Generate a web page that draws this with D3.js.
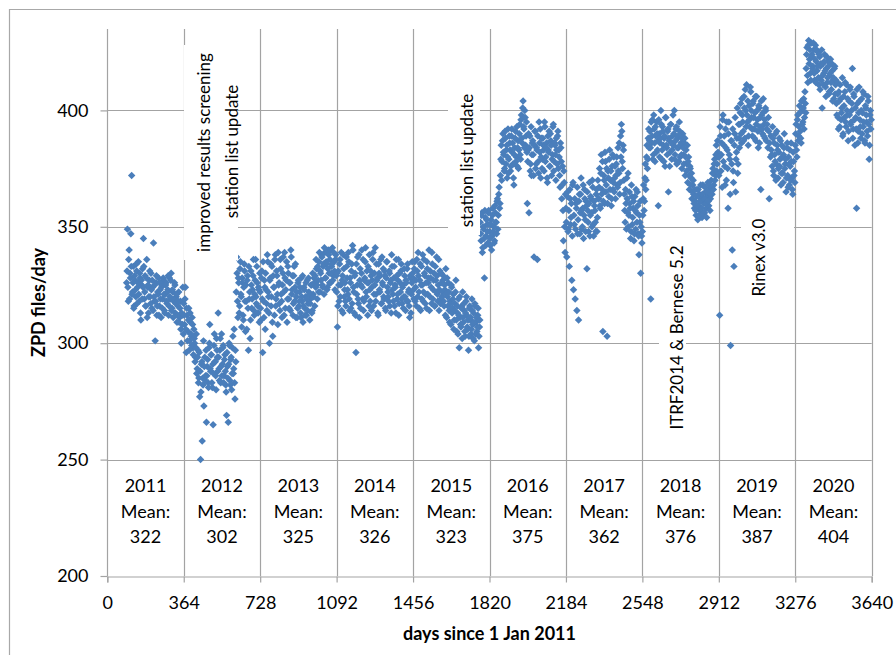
<!DOCTYPE html>
<html><head><meta charset="utf-8">
<script src="https://cdn.jsdelivr.net/npm/d3@7"></script>
<style>
body{margin:0;background:#fff}
text{font-family:Lato,"Noto Sans",sans-serif;fill:#000}
</style>
</head><body>
<svg id="chart" width="896" height="655"></svg>
<script>
// ---------- data ----------
const xTickValues = [0, 364, 728, 1092, 1456, 1820, 2184, 2548, 2912, 3276, 3640];
const yTickValues = [200, 250, 300, 350, 400];
const yearLabels = ["2011","2012","2013","2014","2015","2016","2017","2018","2019","2020"];
const yearMeans = [322, 302, 325, 326, 323, 375, 362, 376, 387, 404];
const segStart = [92, 364, 728, 1092, 1456, 1820, 2184, 2548, 2912, 3276];
const segEnd   = [364, 728, 1092, 1456, 1820, 2184, 2548, 2912, 3276, 3640];

// samples every 4 days (set A) and the in-between days (set B)
const zpd2011 = [326,349,318,340,330,347,372,322,333,316,327,320,331,324,335,318,328,310,325,332,
345,319,329,316,336,324,313,327,320,330,315,324,343,318,301,326,312,322,328,316,
323,311,325,319,327,314,321,326,317,323,312,328,319,330,315,322,318,326,313,320,
309,316,322,311,318,300,312,324];
const zpd2011b = [331,324,336,319,328,333,321,326,315,329,323,334,317,326,321,330,313,327,319,324,
333,322,316,328,311,325,320,331,317,323,327,314,320,325,318,329,316,321,312,326,
319,324,315,328,321,313,325,318,322,329,316,320,327,314,323,311,319,325,317,321,
312,318,309,315,306,313,308,304];
const zpd2012 = [317,308,324,296,312,305,315,301,309,303,311,298,306,300,294,304,289,297,285,277,
250,291,258,282,273,294,286,266,290,283,298,308,288,295,281,265,299,292,286,302,
294,313,289,297,283,304,291,299,286,295,282,269,290,266,300,284,293,280,298,287,
306,276,292,337,318,328,313,332,321,307,326,310,334,318,325,306,329,297,319,302,
331,315,323,336,312,327,320,333,316,324,309];
const zpd2012b = [312,319,306,315,301,310,297,313,304,299,308,295,302,292,298,287,294,
283,296,288,279,292,285,301,290,284,297,286,293,281,300,289,295,283,291,287,304,
292,280,297,288,294,284,302,290,286,298,283,293,288,279,296,285,291,299,282,294,
287,303,289,283,297,
322,330,311,326,316,335,320,328,312,324,331,305,318,327,315,333,322,310,325,319,
329,314,321,336,317,326,313,323,330];
const zpd2013 = [322,310,331,296,318,327,306,323,314,335,320,300,328,316,333,303,324,312,338,319,
329,308,325,317,336,321,311,330,322,339,315,327,309,333,319,326,314,337,323,312,
329,318,334,320,311,326,316,322,313,328,318,309,324,315,320,312,327,317,322,310,
319,325,314,321,328,316,324,332,319,327,335,322,330,338,325,333,321,339,328,334,
324,340,330,336,326,333,341,329,335,323,338];
const zpd2013b = [315,328,319,335,311,324,330,317,338,322,313,327,334,320,309,329,324,336,316,331,
321,339,326,314,332,318,325,337,312,328,323,335,319,330,315,326,340,321,329,317,
333,324,311,
322,315,327,318,324,311,320,329,316,323,312,326,319,314,328,321,317,325,313,330,320,326,
329,336,325,333,322,339,331,327,337,324,334,341,328,335,323,332,338,326,340,330,
334,327,339,331,336,329];
const zpd2014 = [322,307,331,318,336,325,314,329,338,320,326,316,333,323,339,319,328,315,334,342,
324,313,330,296,321,337,317,311,332,325,340,319,314,327,335,322,331,312,326,338,
318,329,324,336,316,330,341,321,327,313,334,323,329,317,337,325,320,331,315,328,
335,322,318,330,326,313,333,321,328,316,324,336,319,327,312,330,322,334,317,325,
320,329,314,326,332,318,323,311,328,321,335];
const zpd2014b = [330,316,325,334,320,339,327,313,332,323,318,337,328,321,335,314,326,331,317,340,
322,329,312,334,325,319,338,327,315,330,324,336,318,328,341,320,326,333,316,323,
331,314,327,339,321,325,318,334,328,312,330,322,336,317,326,332,319,329,314,335,
324,320,331,316,327,338,323,318,333,325,313,329,321,336,317,326,331,319,324,315,
332,320,327,318,334,322,316,329,313,326,330];
const zpd2015 = [328,319,335,324,316,331,339,322,327,314,333,325,318,336,329,321,315,332,326,340,
320,328,317,334,323,330,316,327,337,321,325,314,331,319,326,322,
329,316,323,332,311,320,326,314,318,308,324,315,321,310,317,327,305,313,319,298,
311,307,316,322,309,314,303,318,312,306,297,315,310,304,319,308,313,301,316,309,
305,312,298,307,
352,344,356,341,349,328,354,346,351,343,357];
const zpd2015b = [323,332,318,327,336,320,329,315,334,325,319,338,322,330,317,326,335,321,328,314,
331,324,339,319,327,316,333,322,329,318,336,323,317,330,320,327,
318,325,312,321,328,316,322,309,317,325,313,319,306,314,322,310,316,304,312,320,
308,315,302,311,317,305,313,320,307,310,303,316,311,306,314,302,309,317,304,311,
307,315,303,310,
347,355,339,350,345,357,342,353,348,356,351];
const zpd2016 = [348,342,353,346,358,350,344,356,352,361,349,364,358,
372,385,378,390,381,375,388,383,371,392,379,386,374,389,382,377,368,384,391,380,
376,387,383,394,379,398,386,404,392,400,385,395,
360,383,356,389,377,372,386,381,337,391,375,384,336,378,395,382,371,388,379,385,
374,393,380,386,369,383,391,376,387,372,381,394,378,385,370,383,389,375,380,367,384,
362,376,344,369,339];
const zpd2016b = [345,351,340,355,348,343,359,352,347,362,355,367,360,
379,370,387,382,374,391,377,385,380,373,389,383,376,392,386,371,381,388,378,393,
384,375,390,381,396,388,401,393,384,397,389,382,
378,390,384,374,393,381,387,372,385,391,377,383,389,373,386,392,380,375,388,383,
395,378,384,371,389,382,376,390,385,379,393,374,386,381,388,377,391,383,372,386,378,
368,357,374,350,364];
const zpd2017 = [358,337,365,349,333,362,354,327,368,323,351,319,360,314,347,310,364,356,371,349,
358,345,366,353,361,332,357,348,369,355,362,350,367,346,359,352,364,348,370,
362,375,358,381,366,305,372,360,378,368,303,374,363,383,370,359,376,366,380,371,
362,377,368,384,373,364,389,394,378,385,
370,357,366,349,362,373,355,360,345,368,351,358,344,363,349,356,365,347,338,352,330,346];
const zpd2017b = [352,363,348,357,366,351,360,346,369,355,362,349,358,367,353,361,347,364,357,350,
368,355,362,348,359,365,352,360,346,363,356,370,351,361,357,348,366,354,362,
367,359,373,364,378,361,370,382,365,375,360,371,379,366,374,362,381,369,365,376,
372,380,367,374,386,369,380,391,375,383,
364,352,360,371,356,350,365,358,348,363,354,361,347,357,366,352,359,346,355,361,350,343];
const zpd2018 = [348,362,357,371,366,380,375,388,384,
391,319,386,396,381,392,378,389,395,383,359,390,386,400,379,393,385,388,376,397,
384,391,365,387,382,394,379,389,385,400,381,392,377,388,384,395,380,386,375,
390,381,386,372,383,377,369,380,366,375,371,362,368,364,358,
361,355,366,353,359,364,357,362,354,368,360,356,365,358,363,369,359,366,362,
370,364,375,368,379,372,385,377,382];
const zpd2018b = [355,368,361,377,370,385,379,392,387,
384,395,389,379,398,386,393,382,390,387,396,380,388,394,383,391,378,389,397,385,
381,392,388,376,394,386,383,398,390,379,387,393,384,389,378,391,385,381,388,
384,377,388,380,374,385,378,372,376,368,373,365,370,360,366,
357,363,359,366,355,361,368,358,364,356,362,367,360,354,365,361,368,357,364,
367,373,366,377,370,381,374,387,380];
const zpd2019 = [372,312,389,381,367,398,385,376,392,370,383,358,395,379,299,387,340,374,333,390,
365,382,401,377,388,
394,403,386,398,391,406,388,400,411,395,385,402,393,408,397,389,404,392,399,387,
406,396,384,401,393,366,398,390,405,394,388,400,392,339,397,362,336,
389,381,393,374,386,378,370,391,383,375,388,379,368,385,373,381,390,377,365,384,
372,380,368,376,386,371,364,378,374];
const zpd2019b = [380,393,374,386,396,378,389,368,384,395,375,390,381,364,387,377,392,369,385,397,
379,388,373,394,384,
399,390,405,395,387,401,409,393,398,404,389,396,410,400,392,403,397,388,406,394,
400,391,402,386,397,404,392,399,389,396,401,387,394,384,391,386,380,
383,376,388,372,381,390,377,385,371,382,376,387,373,380,369,384,375,379,371,386,
367,377,383,370,378,366,382,372,369];
const zpd2020 = [385,394,380,398,389,402,391,386,400,395,405,397,403,
418,427,412,430,422,416,429,424,419,426,413,428,421,417,425,411,423,419,413,401,
420,416,424,410,418,412,421,407,415,422,409,417,413,405,419,411,
403,412,397,408,393,405,399,414,390,402,408,395,411,398,387,404,409,394,400,418,
392,406,385,397,358,403,391,410,396,388,405,399,393,407,386,401,395,389,404,379,398,392];
const zpd2020b = [390,383,396,387,393,399,388,404,394,401,392,408,399,
424,415,428,420,426,413,423,418,429,416,422,412,426,419,414,424,409,420,426,415,
411,421,417,406,423,414,419,408,416,412,420,404,414,418,407,413,
398,407,392,404,411,396,401,389,406,397,412,393,400,405,391,398,410,395,403,388,
407,396,401,392,409,386,399,404,393,400,390,408,395,387,402,398,391,406,394,385,400,396];

const seriesA = [zpd2011, zpd2012, zpd2013, zpd2014, zpd2015, zpd2016, zpd2017, zpd2018, zpd2019, zpd2020];
const seriesB = [zpd2011b, zpd2012b, zpd2013b, zpd2014b, zpd2015b, zpd2016b, zpd2017b, zpd2018b, zpd2019b, zpd2020b];

const annotations = [
  {lines: ["improved results screening", "station list update"]},
  {lines: ["station list update"]},
  {lines: ["ITRF2014 & Bernese 5.2"]},
  {lines: ["Rinex v3.0"]}
];

// ---------- layout ----------
const svg = d3.select("#chart");
const gridColor = "#a3a3a3";
const plotLeft = 107.3, plotRight = 871.7, plotTop = 29, plotBottom = 576;

const x = d3.scaleLinear().domain([0, 3640]).range([plotLeft, plotRight]);
const y = d3.scaleLinear().domain([200, 400]).range([plotBottom, 110.4]);

svg.append("path").attr("d", "M9.5,655V9.5H896").attr("fill","none").attr("stroke", "#a8a8a8").attr("stroke-width", 1.2);

svg.append("g").selectAll("line").data(yTickValues.filter(v => v > 200)).join("line")
  .attr("x1", plotLeft).attr("x2", plotRight)
  .attr("y1", d => Math.round(y(d)) + 0.5).attr("y2", d => Math.round(y(d)) + 0.5)
  .attr("stroke", gridColor).attr("stroke-width", 1.2);

svg.append("g").selectAll("line").data(xTickValues.filter(v => v > 0)).join("line")
  .attr("x1", d => Math.round(x(d)) + 0.5).attr("x2", d => Math.round(x(d)) + 0.5)
  .attr("y1", plotTop).attr("y2", plotBottom)
  .attr("stroke", gridColor).attr("stroke-width", 1.2);

const xAxis = d3.axisBottom(x).tickValues(xTickValues).tickSize(6).tickPadding(14).tickFormat(d3.format("d"));
const gx = svg.append("g").attr("transform", `translate(0,${Math.round(plotBottom)+0.5})`).call(xAxis);
const yAxis = d3.axisLeft(y).tickValues(yTickValues).tickSize(7).tickPadding(12).tickFormat(d3.format("d"));
const gy = svg.append("g").attr("transform", `translate(${Math.round(plotLeft)+0.5},0)`).call(yAxis);
gy.select(".domain").attr("d", `M0,${plotTop}V${plotBottom}`);
[gx, gy].forEach(g => {
  g.select(".domain").attr("stroke", gridColor).attr("stroke-width", 1.2);
  g.selectAll(".tick line").attr("stroke", gridColor).attr("stroke-width", 1.2);
  g.selectAll(".tick text").style("font-family", "Lato").style("font-size", "18px").attr("fill", "#000");
});
gx.selectAll(".tick text").attr("dy", "0.71em");

const annLayout = [
  {box: [184, 45, 54, 215], pos: [[203, 152.5], [231, 151.5]]},
  {box: [448, 85, 32, 150], pos: [[466.5, 160.5]]},
  {box: [659, 240, 27, 195], pos: [[676, 337.5]]},
  {box: [741, 208, 53, 96], pos: [[758, 257.5]]}
];
const annG = svg.append("g");
annotations.forEach((a, i) => {
  const L = annLayout[i];
  annG.append("rect").attr("x", L.box[0]).attr("y", L.box[1]).attr("width", L.box[2]).attr("height", L.box[3]).attr("fill", "#fff");
});

const points = [];
seriesA.forEach((vals, k) => {
  const step = (segEnd[k] - segStart[k]) / vals.length;
  vals.forEach((v, i) => points.push({day: segStart[k] + i * step, value: v}));
});
seriesB.forEach((vals, k) => {
  const step = (segEnd[k] - segStart[k]) / vals.length;
  vals.forEach((v, i) => points.push({day: segStart[k] + (i + 0.5) * step, value: v}));
});
const diamond = d3.symbol(d3.symbolSquare, 28)();
svg.append("g").selectAll("path").data(points).join("path")
  .attr("d", diamond)
  .attr("transform", d => `translate(${x(d.day)},${y(d.value)}) rotate(45)`)
  .attr("fill", "#4A7EBB");

annotations.forEach((a, i) => {
  const L = annLayout[i];
  a.lines.forEach((t, j) => {
    annG.append("text").attr("transform", `translate(${L.pos[j][0]},${L.pos[j][1]}) rotate(-90)`)
      .attr("text-anchor", "middle").attr("dominant-baseline", "central")
      .style("font-size", "17px").text(t);
  });
});
annG.raise();

const yl = svg.append("g");
yearLabels.forEach((yr, k) => {
  const cx = x(364 * k + 182);
  [yr, "Mean:", String(yearMeans[k])].forEach((t, j) => {
    yl.append("text").attr("x", cx).attr("y", 485 + j * 25.5)
      .attr("text-anchor", "middle").attr("dominant-baseline", "central")
      .style("font-size", "18px").text(t);
  });
});

svg.append("text").attr("transform", `translate(38,${(plotTop + plotBottom) / 2}) rotate(-90)`)
  .attr("text-anchor", "middle").attr("dominant-baseline", "central")
  .style("font-size", "18px").style("font-weight", "bold").text("ZPD files/day");
svg.append("text").attr("x", (plotLeft + plotRight) / 2).attr("y", 633)
  .attr("text-anchor", "middle").attr("dominant-baseline", "central")
  .style("font-size", "18px").style("font-weight", "bold").text("days since 1 Jan 2011");
</script>
</body></html>
